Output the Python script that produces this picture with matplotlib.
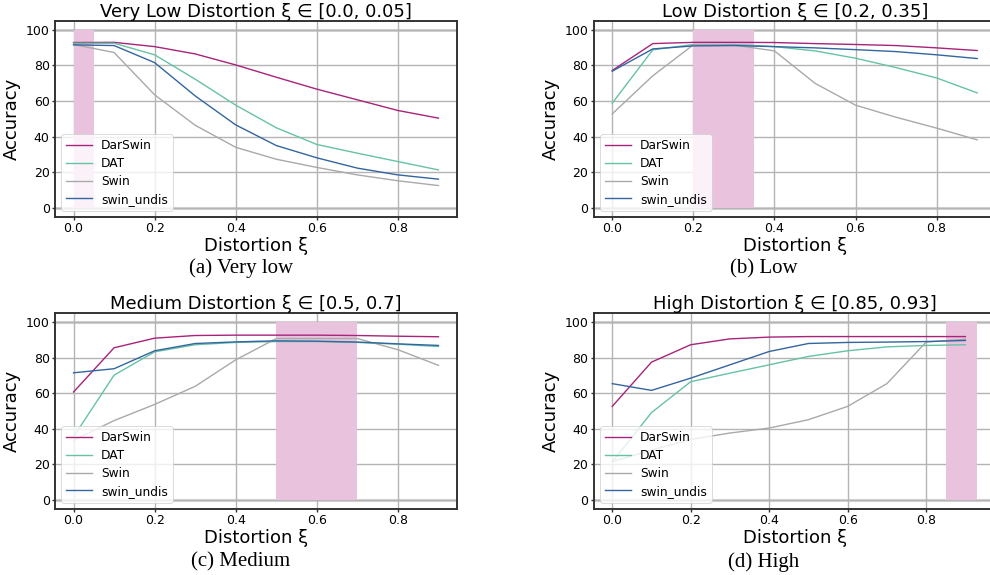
import numpy as np
import matplotlib
matplotlib.use("Agg")
import matplotlib.pyplot as plt

# ---------------- data ----------------
xi = [0.0, 0.1, 0.2, 0.3, 0.4, 0.5, 0.6, 0.7, 0.8, 0.9]
models = ["DarSwin", "DAT", "Swin", "swin_undis"]

# very low distortion
vlow_darswin = [92.9, 93.0, 90.6, 86.5, 80.3, 73.4, 66.7, 60.7, 54.7, 50.4]
vlow_dat = [92.5, 92.5, 86.0, 72.3, 57.7, 45.0, 35.6, 30.7, 26.0, 21.3]
vlow_swin = [91.8, 87.3, 63.5, 46.4, 34.0, 27.3, 22.7, 18.5, 15.2, 12.5]
vlow_undis = [91.6, 91.2, 81.6, 62.9, 46.6, 35.0, 28.1, 22.3, 18.5, 16.1]

# low distortion
low_darswin = [77.2, 92.3, 93.0, 93.0, 92.9, 92.3, 91.8, 91.2, 89.9, 88.4]
low_dat = [58.8, 88.8, 91.8, 91.8, 90.6, 88.2, 84.1, 78.8, 73.0, 64.6]
low_swin = [52.8, 74.2, 91.6, 91.5, 88.2, 70.0, 57.7, 50.9, 44.8, 38.2]
low_undis = [76.8, 89.3, 91.0, 91.2, 90.6, 89.9, 88.9, 87.8, 86.0, 83.9]

# medium distortion
med_darswin = [60.7, 85.6, 91.0, 92.5, 92.7, 92.7, 92.7, 92.5, 92.1, 91.8]
med_dat = [35.5, 70.2, 83.3, 87.3, 88.6, 89.1, 89.1, 88.6, 87.6, 86.3]
med_swin = [33.5, 44.6, 53.7, 63.9, 78.8, 90.8, 90.8, 90.8, 84.5, 75.7]
med_undis = [71.5, 73.8, 83.9, 88.0, 88.9, 89.5, 89.3, 88.8, 87.8, 86.9]

# high distortion
high_darswin = [52.6, 77.5, 87.3, 90.6, 91.6, 91.9, 91.9, 91.9, 91.9, 91.9]
high_dat = [21.3, 49.1, 66.5, 71.3, 76.0, 80.7, 83.9, 86.1, 86.9, 87.3]
high_swin = [21.5, 28.0, 34.0, 37.6, 40.4, 45.1, 52.6, 65.4, 88.8, 90.4]
high_undis = [65.4, 61.6, 68.5, 76.0, 83.5, 88.0, 88.6, 88.8, 89.1, 89.7]

titles = ["Very Low Distortion ξ ∈ [0.0, 0.05]", "Low Distortion ξ ∈ [0.2, 0.35]",
          "Medium Distortion ξ ∈ [0.5, 0.7]", "High Distortion ξ ∈ [0.85, 0.93]"]
spans = [(0.0, 0.05), (0.2, 0.35), (0.5, 0.7), (0.85, 0.93)]
captions = ["(a) Very low", "(b) Low", "(c) Medium", "(d) High"]

series = [
    [vlow_darswin, vlow_dat, vlow_swin, vlow_undis],
    [low_darswin, low_dat, low_swin, low_undis],
    [med_darswin, med_dat, med_swin, med_undis],
    [high_darswin, high_dat, high_swin, high_undis],
]

colors = ["#a8237a", "#66c2a5", "#a9a9a9", "#33659f"]
span_color = "#e9c3de"

# ---------------- layout ----------------
fig = plt.figure(figsize=(9.9, 5.75), dpi=100)

W, H = 990.0, 575.0
boxes = [  # left, top, right, bottom in pixels
    (55.3, 21.0, 456.7, 216.7),
    (594.0, 21.0, 995.4, 216.7),
    (55.3, 313.3, 456.7, 508.7),
    (594.0, 313.3, 995.4, 508.7),
]
cap_pos = [(240.8, 273.0), (764.0, 273.0), (241.0, 566.7), (764.0, 566.7)]

for i in range(4):
    l, t, r, b = boxes[i]
    ax = fig.add_axes([l / W, 1 - b / H, (r - l) / W, (b - t) / H])

    ax.grid(True, color="#b4b4b4", lw=1.0, zorder=0)
    ax.set_axisbelow(True)

    a0, a1 = spans[i]
    ax.fill_between([a0, a1], 0, 100, color=span_color, lw=0, zorder=1)
    ax.axhline(0, color="#d6d6d6", lw=2.2, zorder=0.5)
    ax.axhline(100, color="#d6d6d6", lw=2.2, zorder=0.5)

    for j in range(4):
        ax.plot(xi, series[i][j], color=colors[j], lw=1.0, label=models[j], zorder=3)

    ax.set_title(titles[i], fontsize=13, pad=2)
    ax.set_xlabel("Distortion ξ", fontsize=13, labelpad=1)
    ax.set_ylabel("Accuracy", fontsize=13, labelpad=3.5)
    ax.set_xticks([0.0, 0.2, 0.4, 0.6, 0.8])
    ax.set_yticks([0, 20, 40, 60, 80, 100])
    ax.tick_params(labelsize=9, length=2.5, width=1, color="#333333", pad=1.5)
    for s in ax.spines.values():
        s.set_color("#333333")
        s.set_linewidth(1.4)

    leg = ax.legend(loc="lower left", fontsize=8.8, framealpha=0.8,
                    handlelength=2.1, borderpad=0.4, labelspacing=0.4,
                    borderaxespad=0.5, handletextpad=0.75)
    leg.get_frame().set_linewidth(0.6)

    cx, cy = cap_pos[i]
    fig.text(cx / W, 1 - cy / H, captions[i], ha="center", va="baseline",
             fontsize=15, family="Liberation Serif")

fig.savefig("out.png", dpi=100)
